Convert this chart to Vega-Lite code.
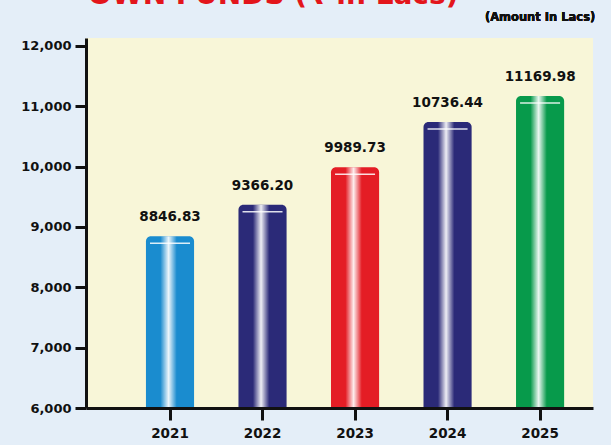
{
  "$schema": "https://vega.github.io/schema/vega-lite/v6.json",
  "width": 507,
  "height": 370,
  "autosize": {"type": "none"},
  "padding": {"left": 86, "top": 38, "right": 18, "bottom": 37},
  "background": "#e4eef8",
  "config": {
    "view": {"fill": "#f8f6d8", "stroke": null},
    "font": "DejaVu Sans"
  },
  "title": {
    "text": "OWN FUNDS (₹ in Lacs)",
    "color": "#e3151b",
    "fontSize": 28,
    "fontWeight": "bold",
    "font": "DejaVu Sans",
    "anchor": "start",
    "frame": "group",
    "orient": "top",
    "baseline": "bottom",
    "offset": -26,
    "dx": 2
  },
  "data": {
    "values": [
      {"year": "2021", "amount": 8846.83},
      {"year": "2022", "amount": 9366.20},
      {"year": "2023", "amount": 9989.73},
      {"year": "2024", "amount": 10736.44},
      {"year": "2025", "amount": 11169.98}
    ]
  },
  "encoding": {
    "x": {
      "field": "year",
      "type": "ordinal",
      "scale": {"paddingInner": 0.48, "paddingOuter": 0.48, "align": 0.675},
      "axis": {
        "title": null,
        "labelAngle": 0,
        "labelFont": "DejaVu Sans",
        "labelFontWeight": "bold",
        "labelFontSize": 13.5,
        "labelColor": "#111111",
        "labelPadding": 6,
        "domainColor": "#111111",
        "domainWidth": 3,
        "tickColor": "#111111",
        "tickWidth": 3,
        "tickSize": 12,
        "zindex": 1
      }
    },
    "y": {
      "field": "amount",
      "type": "quantitative",
      "scale": {"domain": [6000, 12130], "nice": false, "zero": false},
      "axis": {
        "title": null,
        "values": [6000, 7000, 8000, 9000, 10000, 11000, 12000],
        "format": ",.0f",
        "grid": false,
        "labelFont": "DejaVu Sans",
        "labelFontWeight": "bold",
        "labelFontSize": 13,
        "labelColor": "#111111",
        "labelPadding": 4,
        "domainColor": "#111111",
        "domainWidth": 3,
        "tickColor": "#111111",
        "tickWidth": 3,
        "tickSize": 11,
        "zindex": 1
      }
    }
  },
  "layer": [
    {
      "mark": {"type": "bar", "cornerRadiusTopLeft": 5, "cornerRadiusTopRight": 5},
      "encoding": {
        "y2": {"datum": 6000},
        "color": {
          "field": "year",
          "type": "nominal",
          "scale": {
            "domain": ["2021", "2022", "2023", "2024", "2025"],
            "range": ["#1a8ccf", "#2b2a78", "#e41d25", "#2b2a78", "#079a4b"]
          },
          "legend": null
        }
      }
    },
    {
      "mark": {
        "type": "bar",
        "cornerRadiusTopLeft": 5,
        "cornerRadiusTopRight": 5,
        "fill": {
          "gradient": "linear",
          "x1": 0, "y1": 0, "x2": 1, "y2": 0,
          "stops": [
            {"offset": 0, "color": "rgba(255,255,255,0)"},
            {"offset": 0.3, "color": "rgba(255,255,255,0)"},
            {"offset": 0.47, "color": "rgba(255,255,255,0.92)"},
            {"offset": 0.64, "color": "rgba(255,255,255,0)"},
            {"offset": 1, "color": "rgba(255,255,255,0)"}
          ]
        }
      },
      "encoding": {"y2": {"datum": 6000}}
    },
    {
      "mark": {
        "type": "tick",
        "color": "#ffffff",
        "thickness": 1.5,
        "strokeDash": [6, 5],
        "yOffset": 7,
        "opacity": 0.85,
        "size": 40
      },
      "encoding": {}
    },
    {
      "mark": {
        "type": "text",
        "baseline": "bottom",
        "dy": -12,
        "font": "DejaVu Sans",
        "fontWeight": "bold",
        "fontSize": 13.5,
        "color": "#111111"
      },
      "encoding": {
        "text": {"field": "amount", "type": "quantitative", "format": ".2f"}
      }
    },
    {
      "mark": {
        "type": "text",
        "align": "center",
        "baseline": "middle",
        "dy": -20,
        "font": "DejaVu Sans",
        "fontWeight": "bold",
        "fontSize": 11.5,
        "color": "#111111"
      },
      "encoding": {
        "x": {"datum": "2025"},
        "y": {"datum": 12130},
        "text": {"value": "(Amount In Lacs)"}
      }
    }
  ]
}
